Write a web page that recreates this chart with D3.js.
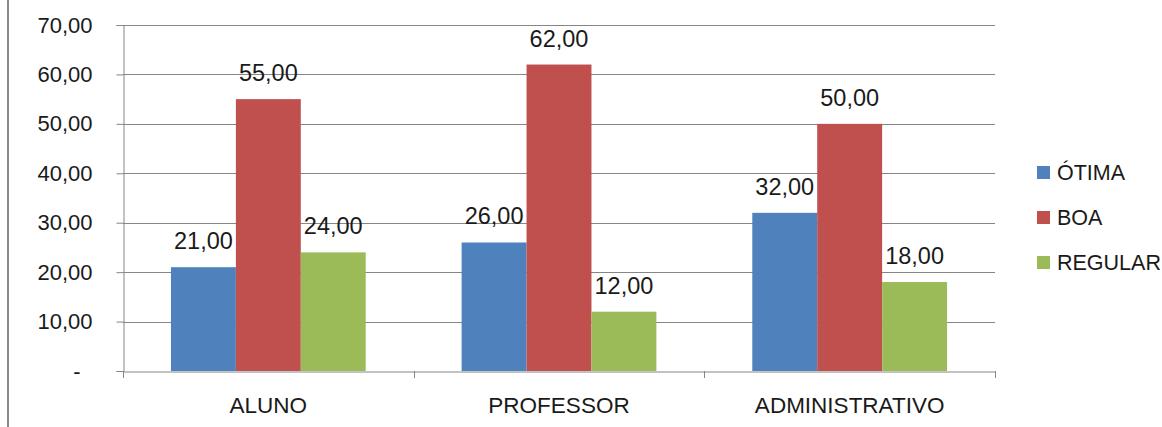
<!DOCTYPE html>
<html>
<head>
<meta charset="utf-8">
<script src="https://cdn.jsdelivr.net/npm/d3@7"></script>
<style>
  html, body { margin: 0; padding: 0; background: #fff; }
  svg { display: block; font-family: "Liberation Sans", Arial, sans-serif; }
</style>
</head>
<body>
<svg id="chart" width="1162" height="427"></svg>
<script>
// Avaliação por segmento
const categories = ["ALUNO", "PROFESSOR", "ADMINISTRATIVO"];
const series = ["ÓTIMA", "BOA", "REGULAR"];
const otima = [21, 26, 32];
const boa = [55, 62, 50];
const regular = [24, 12, 18];
const yTicks = [0, 10, 20, 30, 40, 50, 60, 70];
const colors = ["#4F81BD", "#C0504D", "#9BBB59"];

const values = [otima, boa, regular];
const fmt = v => v === 0 ? "-" : v.toFixed(2).replace(".", ",");

const svg = d3.select("#chart");
const plot = { left: 123, right: 995, top: 25, bottom: 371 };

// outer frame edge on the left
svg.append("line")
  .attr("x1", 8).attr("x2", 8).attr("y1", 0).attr("y2", 427)
  .attr("stroke", "#8a8a8a").attr("stroke-width", 2);

const x = d3.scaleBand().domain(categories).range([plot.left, plot.right]).padding(0);
const gap = x.bandwidth() * 0.33;
const x1 = d3.scaleBand().domain(series).range([gap / 2, x.bandwidth() - gap / 2]).padding(0);
const y = d3.scaleLinear().domain([0, 70]).range([plot.bottom, plot.top]);

// gridlines
svg.append("g").selectAll("line").data(yTicks.filter(d => d > 0)).join("line")
  .attr("x1", plot.left).attr("x2", plot.right)
  .attr("y1", d => Math.round(y(d)) + 0.5).attr("y2", d => Math.round(y(d)) + 0.5)
  .attr("stroke", "#868686").attr("stroke-width", 1);

// y axis
const yAxis = d3.axisLeft(y).tickValues(yTicks).tickFormat(fmt).tickSize(7).tickPadding(24);
const gy = svg.append("g").attr("transform", `translate(${plot.left + 0.5},0)`).call(yAxis);
gy.select(".domain").attr("stroke", "#868686");
gy.selectAll(".tick line").attr("stroke", "#868686");
gy.selectAll(".tick text").attr("font-size", 22).attr("fill", "#1a1a1a")
  .attr("font-family", "'Liberation Sans', Arial, sans-serif")
  .attr("dx", d => d === 0 ? -12 : 0);

// bars
const groups = svg.append("g").selectAll("g").data(categories).join("g")
  .attr("transform", d => `translate(${x(d)},0)`);

groups.selectAll("rect")
  .data((c, i) => series.map((s, j) => ({ s, v: values[j][i], color: colors[j] })))
  .join("rect")
  .attr("x", d => x1(d.s))
  .attr("width", x1.bandwidth())
  .attr("y", d => y(d.v))
  .attr("height", d => y(0) - y(d.v))
  .attr("fill", d => d.color);

groups.selectAll("text")
  .data((c, i) => series.map((s, j) => ({ s, v: values[j][i] })))
  .join("text")
  .attr("x", d => x1(d.s) + x1.bandwidth() / 2)
  .attr("y", d => y(d.v) - 18)
  .attr("text-anchor", "middle")
  .attr("font-size", 23.5)
  .attr("fill", "#1a1a1a")
  .text(d => fmt(d.v));

// x axis
const xAxis = d3.axisBottom(x).tickSize(0).tickPadding(26);
const gx = svg.append("g").attr("transform", `translate(0,${plot.bottom + 0.5})`).call(xAxis);
gx.select(".domain").attr("stroke", "#868686");
gx.selectAll(".tick text").attr("font-size", 22.5).attr("fill", "#1a1a1a")
  .attr("font-family", "'Liberation Sans', Arial, sans-serif");

// category separators
svg.append("g").selectAll("line")
  .data(categories.map(c => x(c)).concat([plot.right]))
  .join("line")
  .attr("x1", d => Math.round(d) + 0.5).attr("x2", d => Math.round(d) + 0.5)
  .attr("y1", plot.bottom).attr("y2", plot.bottom + 7)
  .attr("stroke", "#868686");

// legend
const legend = svg.append("g").selectAll("g").data(series).join("g")
  .attr("transform", (d, i) => `translate(1037,${172 + i * 45})`);
legend.append("rect").attr("x", 0).attr("y", -6).attr("width", 13).attr("height", 13)
  .attr("fill", (d, i) => colors[i]);
legend.append("text").attr("x", 20).attr("y", 0).attr("dy", "0.36em")
  .attr("font-size", 21.5).attr("fill", "#1a1a1a").text(d => d);
</script>
</body>
</html>
